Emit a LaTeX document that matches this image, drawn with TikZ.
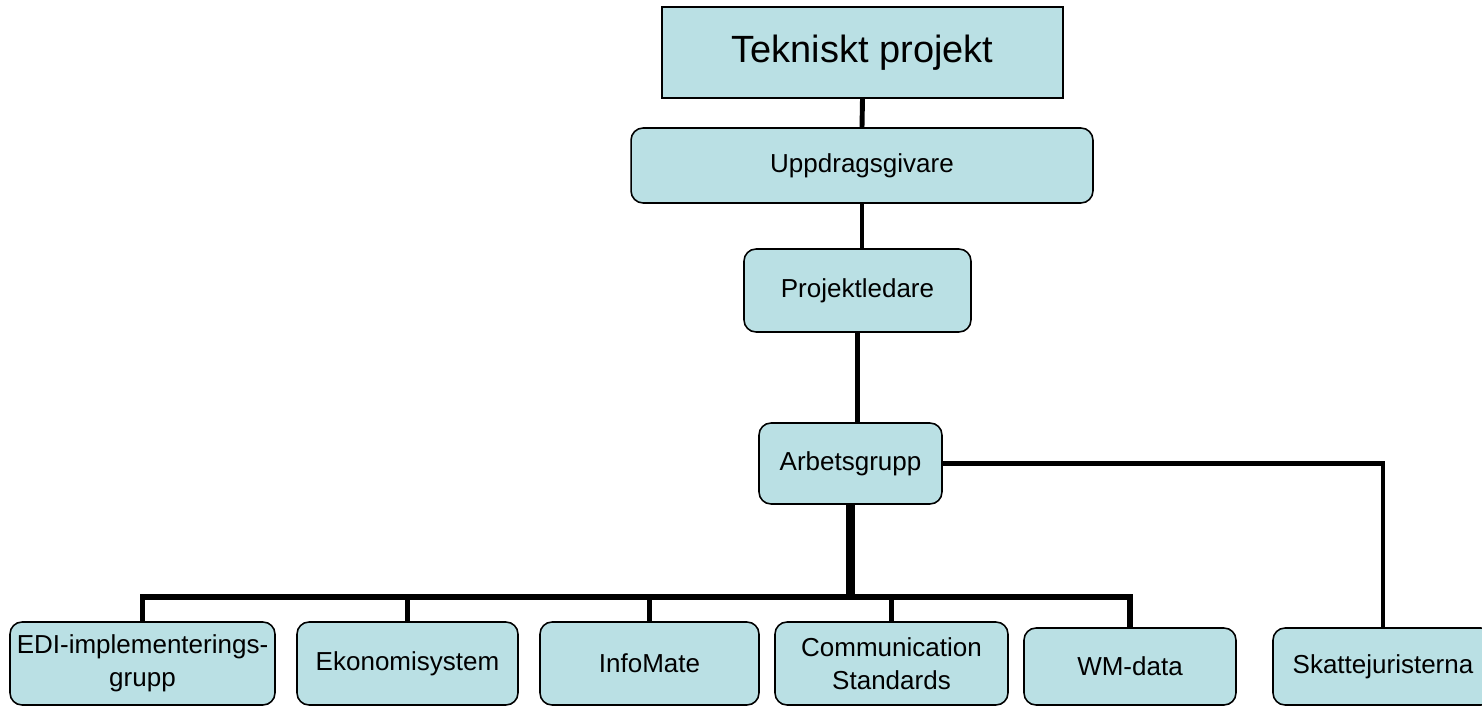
\documentclass[tikz,border=0pt]{standalone}
\usepackage{fontspec}
\setmainfont{Liberation Sans}
\usepackage{xcolor}
\usetikzlibrary{calc}
\usetikzlibrary{positioning}
\definecolor{boxfill}{RGB}{186,224,228}

\begin{document}
\begin{tikzpicture}[x=0.02cm, y=-0.02cm, line join=miter, font=\fontsize{14.8}{19}\selectfont]
    \tikzstyle{unit}=[draw=black, line width=0.9pt, fill=boxfill, rounded corners=0.24cm, align=center, inner sep=1pt, minimum height=1.66cm]
    \tikzstyle{link}=[draw=black, line width=2.8pt]
    \tikzstyle{bus}=[draw=black, line width=3.4pt]

    \useasboundingbox (0,0) rectangle (1482,706);

    % top of the tree
    \node[unit, rounded corners=0pt, minimum width=8.02cm, minimum height=1.82cm, font=\fontsize{21.6}{25}\selectfont] (tek) at (862.5,52.5) {Tekniskt projekt};
    \node[unit, minimum width=9.24cm, minimum height=1.5cm] (upp) at (862,165.5) {Uppdragsgivare};
    \node[unit, minimum width=4.54cm] (proj) at (857.5,290.5) {Projektledare};
    \node[unit, minimum width=3.66cm, minimum height=1.62cm] (arb) at (850.5,463.5) {Arbetsgrupp};

    % bottom row
    \node[unit, minimum width=5.3cm] (edi) at (142.5,663.5) {EDI-implementerings-\\grupp};
    \node[unit, minimum width=4.42cm] (eko) at (407.5,663.5) {Ekonomisystem};
    \node[unit, minimum width=4.38cm] (info) at (649.5,663.5) {InfoMate};
    \node[unit, minimum width=4.66cm] (comm) at (891.5,663.5) {Communication\\Standards};
    \node[unit, minimum width=4.24cm, minimum height=1.54cm] (wm) at (1130,666.5) {WM-data};
    \node[unit, minimum width=4.4cm, minimum height=1.54cm] (skat) at (1383,666.5) {Skattejuristerna};
    \coordinate (bus) at (850,597);

    \draw[link] (tek.south) -- (upp.north);
    \draw[link] (upp.south) -- (upp.south |- proj.north);
    \draw[link] (proj.south) -- (proj.south |- arb.north);
    \draw[link] (arb.east) -| (skat.north);
    \draw[draw=black, line width=4.6pt] (arb.south) -- (arb.south |- bus);
    \draw[bus] (edi.north) |- (bus) -| (wm.north);
    \foreach \c in {eko,info,comm}
        \draw[bus] (\c.north) -- (\c.north |- bus);
\end{tikzpicture}
\end{document}
